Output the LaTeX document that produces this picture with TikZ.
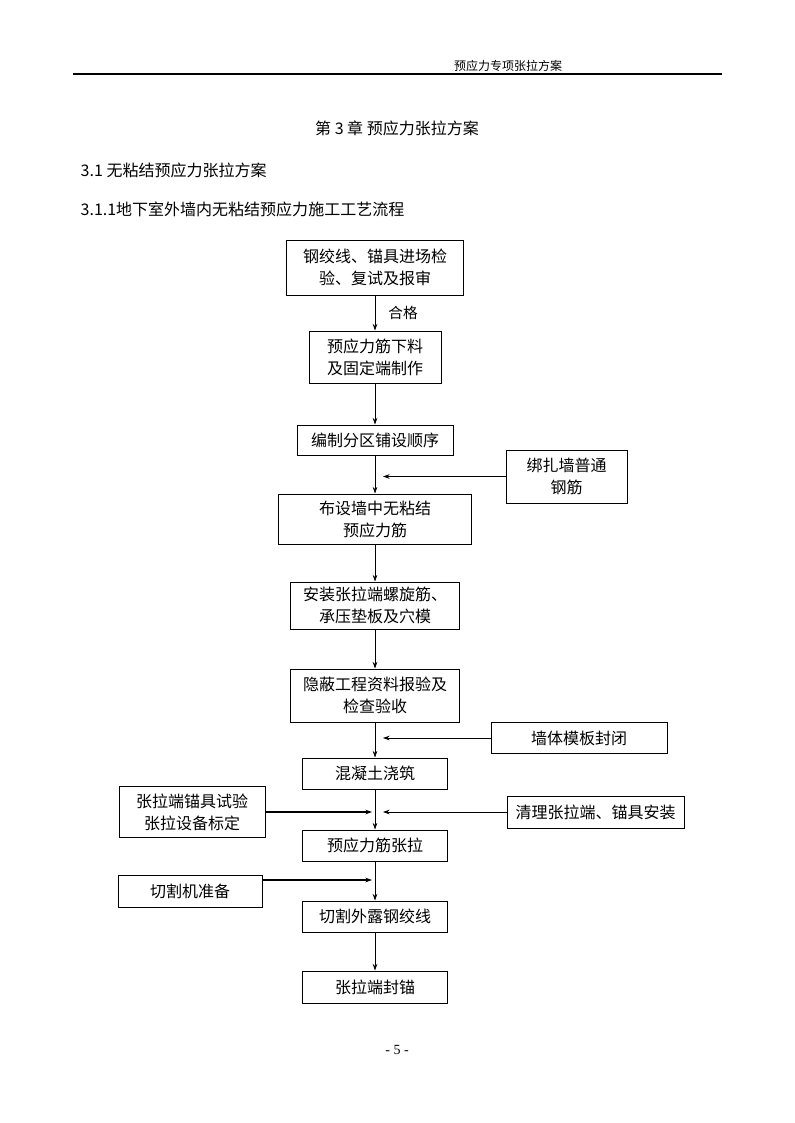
\documentclass[tikz,border=0pt]{standalone}
\usepackage{fontspec}
\setmainfont{Noto Sans CJK SC}
\newfontfamily\pagefont{Liberation Serif}
\usetikzlibrary{arrows.meta}

\begin{document}
\begin{tikzpicture}[x=0.75pt,y=-0.75pt,>={Stealth[length=5pt,width=3.5pt]},
	box/.style={draw,line width=0.75pt,align=center,inner sep=0pt,font=\fontsize{12}{16.5}\selectfont},
	wh/.style 2 args={minimum width=#1*0.75pt,minimum height=#2*0.75pt},
	flow/.style={line width=0.6pt,->},
	feed/.style={line width=1.6pt,->}]
		\useasboundingbox (0,0) rectangle (794,1123);
		% page head
		\path (508,66) node(head)[font=\fontsize{9}{9}\selectfont]{预应力专项张拉方案}
		(73,74) coordinate(hl) (722,74) coordinate(hr);
		\draw[line width=0.9pt] (hl) -- (hr);
		\path (397,128) node(title)[font=\fontsize{12}{12}\selectfont]{第 3 章\ 预应力张拉方案}
		(76,170) node(sec)[anchor=west,font=\fontsize{12}{12}\selectfont]{3.1\ 无粘结预应力张拉方案}
		(76,209) node(subsec)[anchor=west,font=\fontsize{12}{12}\selectfont]{3.1.1地下室外墙内无粘结预应力施工工艺流程};
		% main chain
		\path (375,267.5) node(b1)[box,wh={177}{55}]{钢绞线、锚具进场检\\验、复试及报审}
		(375,357) node(b2)[box,wh={132}{52}]{预应力筋下料\\及固定端制作}
		(375,440) node(b3)[box,wh={156}{30}]{编制分区铺设顺序}
		(375,519) node(b4)[box,wh={193}{50}]{布设墙中无粘结\\预应力筋}
		(375,605.5) node(b5)[box,wh={169}{47}]{安装张拉端螺旋筋、\\承压垫板及穴模}
		(375,695.5) node(b6)[box,wh={169}{53}]{隐蔽工程资料报验及\\检查验收}
		(375,773.5) node(b7)[box,wh={145}{31}]{混凝土浇筑}
		(375,845.5) node(b8)[box,wh={145}{31}]{预应力筋张拉}
		(375,916.5) node(b9)[box,wh={145}{31}]{切割外露钢绞线}
		(375,987) node(b10)[box,wh={145}{32}]{张拉端封锚};
		% side boxes
		\path (566.5,476.5) node(s1)[box,wh={121}{53}]{绑扎墙普通\\钢筋}
		(579,738) node(s2)[box,wh={176}{31}]{墙体模板封闭}
		(595.5,812) node(s3)[box,wh={177}{32}]{清理张拉端、锚具安装}
		(192,812) node(s4)[box,wh={146}{51}]{张拉端锚具试验\\张拉设备标定}
		(190,891) node(s5)[box,wh={144}{32}]{切割机准备};
		\path (403,313) node(ok)[font=\fontsize{11}{11}\selectfont]{合格};
		\draw[flow] (b1) -- (b2);
		\draw[flow] (b2) -- (b3);
		\draw[flow] (b3) -- (b4);
		\draw[flow] (b4) -- (b5);
		\draw[flow] (b5) -- (b6);
		\draw[flow] (b6) -- (b7);
		\draw[flow] (b7) -- (b8);
		\draw[flow] (b8) -- (b9);
		\draw[flow] (b9) -- (b10);
		% inputs
		\path (383,476.5) coordinate(m1) (383,738) coordinate(m2) (383,812) coordinate(m3)
		(372,812) coordinate(m4) (372,880) coordinate(m5);
		\draw[flow] (s1) -- (m1);
		\draw[flow] (s2) -- (m2);
		\draw[flow] (s3) -- (m3);
		\draw[feed] (s4) -- (m4);
		\draw[feed] (m5 -| s5.east) -- (m5);
		% page number
		\path (397,1050) node(pg)[font=\pagefont\fontsize{10.5}{10.5}\selectfont]{- 5 -};
	\end{tikzpicture}
\end{document}
